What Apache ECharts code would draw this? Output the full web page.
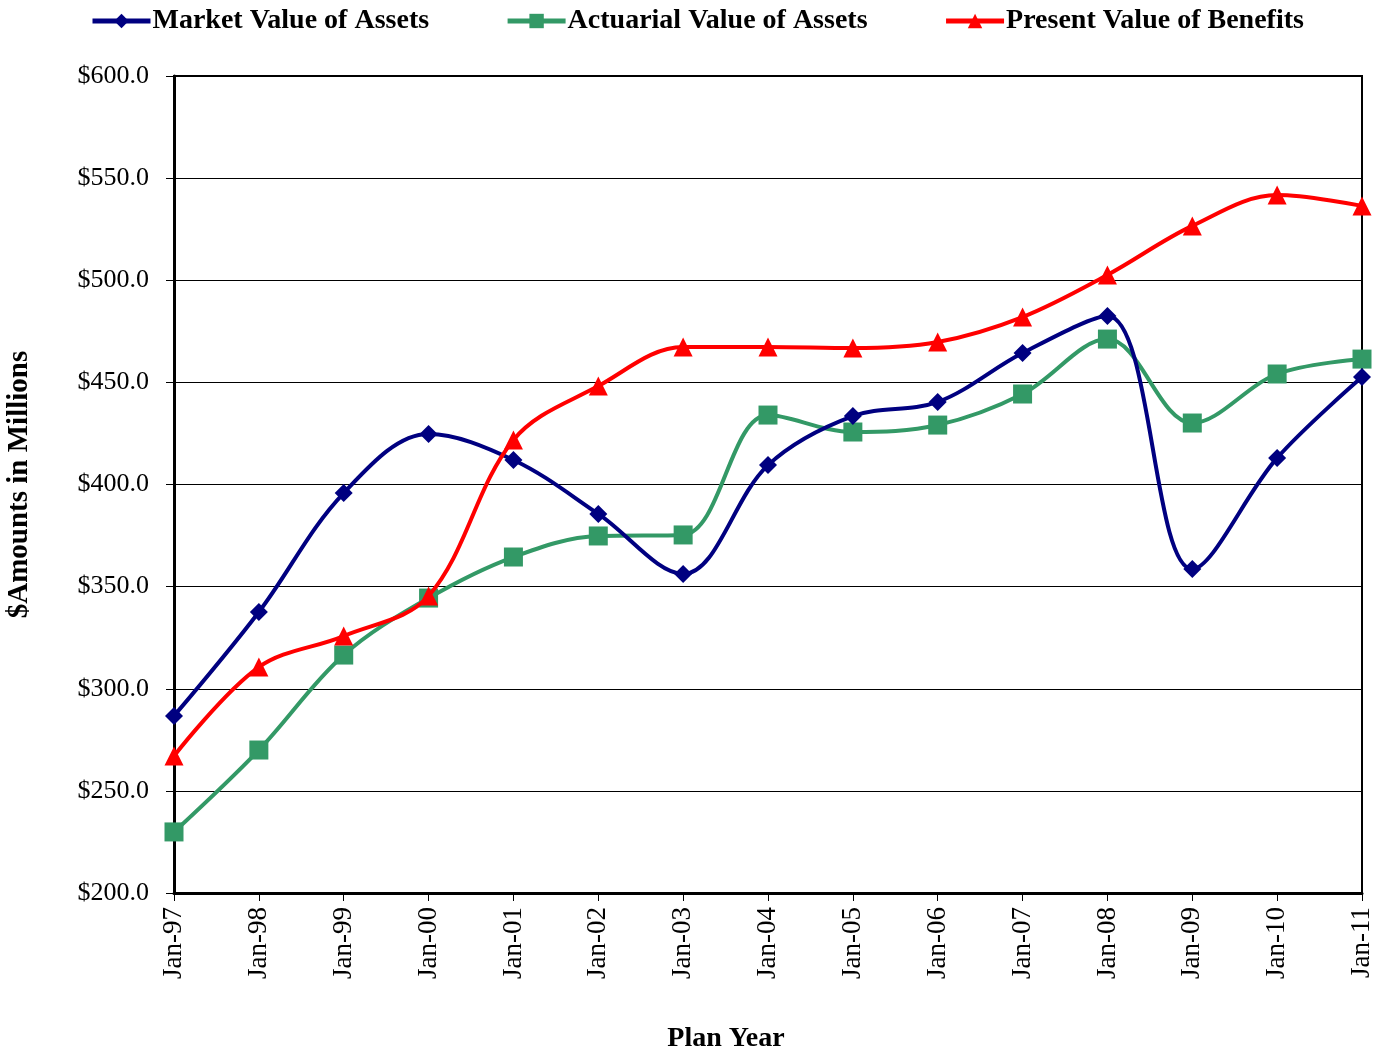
<!DOCTYPE html>
<html>
<head>
<meta charset="utf-8">
<script src="https://cdn.jsdelivr.net/npm/echarts@6/dist/echarts.min.js"></script>
<style>
  html, body { margin: 0; padding: 0; background: #fff; }
  #chart-container { width: 1390px; height: 1050px; }
</style>
</head>
<body>
<div id="chart-container"></div>
<script>
var years = ['Jan-97', 'Jan-98', 'Jan-99', 'Jan-00', 'Jan-01', 'Jan-02', 'Jan-03', 'Jan-04',
  'Jan-05', 'Jan-06', 'Jan-07', 'Jan-08', 'Jan-09', 'Jan-10', 'Jan-11'];
var marketValue = [286.7, 337.6, 395.8, 424.7, 412.0, 385.6, 356.2, 409.5, 433.5, 440.4, 464.4, 482.5, 358.6, 413.0, 452.6];
var actuarialValue = [229.9, 270.0, 316.5, 344.4, 364.5, 374.8, 375.3, 434.0, 425.7, 429.1, 444.3, 471.2, 430.1, 454.1, 461.4];
var presentValue = [267.1, 310.6, 325.8, 345.4, 421.8, 448.2, 467.3, 467.3, 466.8, 469.8, 482.0, 502.6, 526.6, 541.7, 536.4];

var font = '"Liberation Serif", "DejaVu Serif", serif';

var dom = document.getElementById('chart-container');
var myChart = echarts.init(dom, null, { renderer: 'canvas' });

var option = {
  animation: false,
  textStyle: { fontFamily: font },
  legend: {
    top: 2,
    left: 85,
    itemGap: 76,
    itemWidth: 58,
    itemHeight: 18,
    lineStyle: { width: 5 },
    textStyle: { fontFamily: font, fontWeight: 'bold', fontSize: 28, color: '#000', padding: [0, 0, 0, -3] },
    data: ['Market Value of Assets', 'Actuarial Value of Assets', 'Present Value of Benefits']
  },
  grid: {
    left: 174, right: 28, top: 76, bottom: 157,
    outerBoundsMode: 'none', containLabel: false,
    show: true, borderColor: '#000', borderWidth: 2
  },
  xAxis: {
    type: 'category',
    data: years,
    boundaryGap: false,
    name: 'Plan Year',
    nameLocation: 'middle',
    nameGap: 132,
    nameTextStyle: { fontFamily: font, fontWeight: 'bold', fontSize: 28, color: '#000', padding: [0, 84, 0, 0] },
    axisLine: { lineStyle: { color: '#000', width: 3 } },
    axisTick: { alignWithLabel: true, length: 8, lineStyle: { color: '#000' } },
    axisLabel: { rotate: 90, fontSize: 27, color: '#000', margin: 14 },
    splitLine: { show: false }
  },
  yAxis: {
    type: 'value',
    min: 200,
    max: 600,
    interval: 50,
    name: '$Amounts in Millions',
    nameLocation: 'middle',
    nameGap: 140,
    nameTextStyle: { fontFamily: font, fontWeight: 'bold', fontSize: 29, color: '#000', padding: [20, 0, 0, 0] },
    axisLine: { show: true, lineStyle: { color: '#000', width: 3 } },
    axisTick: { show: true, length: 8, lineStyle: { color: '#000' } },
    axisLabel: { fontSize: 26, color: '#000', margin: 25, formatter: function (v) { return '$' + v.toFixed(1); } },
    splitLine: { lineStyle: { color: '#000', width: 1 } }
  },
  series: [
    {
      name: 'Market Value of Assets',
      type: 'line',
      data: marketValue,
      smooth: 0.35,
      symbol: 'diamond',
      symbolSize: 18,
      lineStyle: { color: '#000080', width: 4 },
      itemStyle: { color: '#000080' },
      z: 3
    },
    {
      name: 'Actuarial Value of Assets',
      type: 'line',
      data: actuarialValue,
      smooth: 0.35,
      symbol: 'rect',
      symbolSize: 19,
      lineStyle: { color: '#339966', width: 4 },
      itemStyle: { color: '#339966' },
      z: 2
    },
    {
      name: 'Present Value of Benefits',
      type: 'line',
      data: presentValue,
      smooth: 0.35,
      symbol: 'triangle',
      symbolSize: 19,
      lineStyle: { color: '#ff0000', width: 4 },
      itemStyle: { color: '#ff0000' },
      z: 4
    }
  ]
};

myChart.setOption(option);
window.addEventListener('resize', myChart.resize);
</script>
</body>
</html>
